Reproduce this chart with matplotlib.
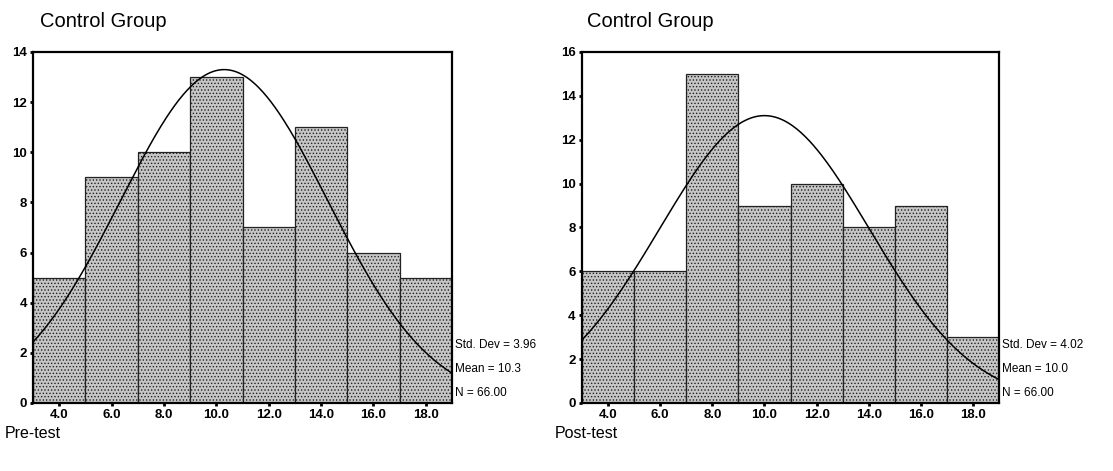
import matplotlib
matplotlib.use("Agg")
import matplotlib.pyplot as plt
import numpy as np

plt.rcParams['font.family'] = ['Liberation Sans', 'DejaVu Sans']
plt.rcParams['hatch.color'] = '#8c8c8c'
plt.rcParams['hatch.linewidth'] = 0.6

# histogram bins (score ranges) and counts
bin_edges = [3, 5, 7, 9, 11, 13, 15, 17, 19]
pre_counts = [5, 9, 10, 13, 7, 11, 6, 5]
post_counts = [6, 6, 15, 9, 10, 8, 9, 3]

xtick_vals = [4, 6, 8, 10, 12, 14, 16, 18]
xtick_labels = ["4.0", "6.0", "8.0", "10.0", "12.0", "14.0", "16.0", "18.0"]

pre_stats = {"sd": 3.96, "mean": 10.3, "n": 66}
post_stats = {"sd": 4.02, "mean": 10.0, "n": 66}

titles = ["Control Group", "Control Group"]
captions = ["Pre-test", "Post-test"]


def draw_hist(ax, counts, stats, ymax, title, caption, title_x, cap_x):
    edges = np.array(bin_edges, dtype=float)
    widths = np.diff(edges)
    ax.bar(edges[:-1], counts, width=widths, align='edge',
           facecolor='#c6c6c6', edgecolor='#222222', linewidth=0.9,
           hatch='.....')

    # fitted normal curve
    xs = np.linspace(edges[0], edges[-1], 300)
    bw = widths[0]
    ys = stats["n"] * bw / (stats["sd"] * np.sqrt(2 * np.pi)) * \
        np.exp(-0.5 * ((xs - stats["mean"]) / stats["sd"]) ** 2)
    ax.plot(xs, ys, color='black', linewidth=1.1)

    ax.set_xlim(edges[0], edges[-1])
    ax.set_ylim(0, ymax)
    ax.set_xticks(xtick_vals)
    ax.set_xticklabels(xtick_labels)
    ax.set_yticks(np.arange(0, ymax + 1, 2))
    for lab in ax.get_xticklabels() + ax.get_yticklabels():
        lab.set_fontweight('bold')
        lab.set_fontsize(9.5)
    ax.tick_params(direction='out', length=2.5, width=2, pad=2)
    for sp in ax.spines.values():
        sp.set_linewidth(1.6)

    ax.text(title_x, 1.087, title, transform=ax.transAxes, fontsize=14.5,
            ha='left', va='center')
    ax.text(cap_x, -0.087, caption, transform=ax.transAxes, fontsize=11.5,
            ha='left', va='center')

    lines = [f"Std. Dev = {stats['sd']:.2f}",
             f"Mean = {stats['mean']:.1f}",
             f"N = {stats['n']:.2f}"]
    for txt, yy in zip(lines, [0.165, 0.097, 0.028]):
        ax.text(1.008, yy, txt, transform=ax.transAxes, fontsize=8.5,
                ha='left', va='center')


fig = plt.figure(figsize=(11.13, 4.71), dpi=100)
ax1 = fig.add_axes([0.0297, 0.1444, 0.3764, 0.7452])
ax2 = fig.add_axes([0.5229, 0.1444, 0.3747, 0.7452])

draw_hist(ax1, pre_counts, pre_stats, 14, titles[0], captions[0], 0.017, -0.067)
draw_hist(ax2, post_counts, post_stats, 16, titles[1], captions[1], 0.012, -0.065)

fig.savefig("out.png", dpi=100)
